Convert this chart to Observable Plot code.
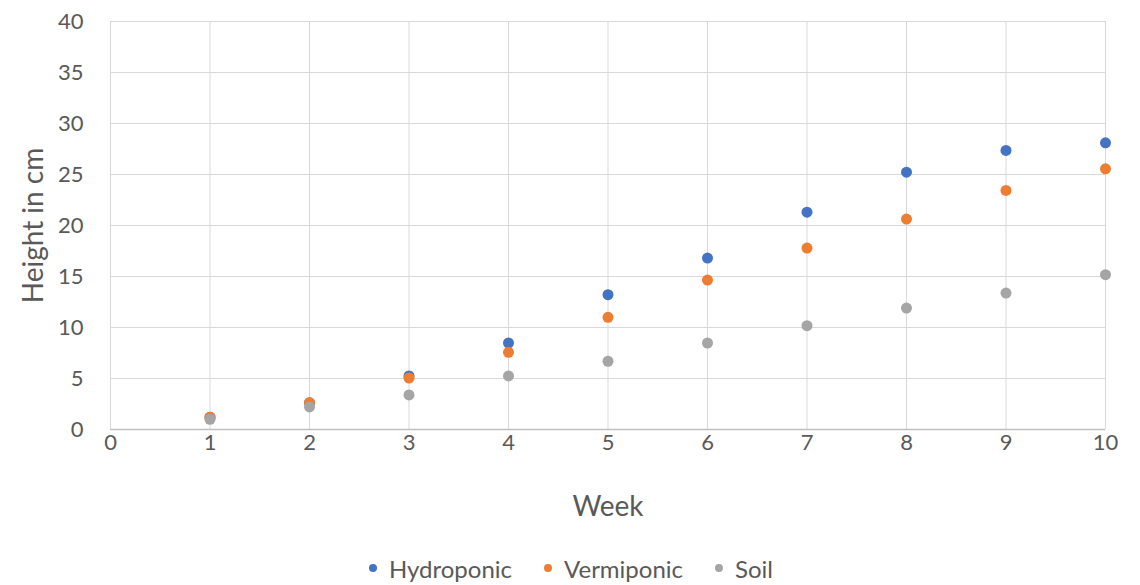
<!DOCTYPE html>
<html>
<head>
<meta charset="utf-8">
<script src="https://cdn.jsdelivr.net/npm/d3@7"></script>
<script src="https://cdn.jsdelivr.net/npm/@observablehq/plot@0.6"></script>
<style>
  body { margin: 0; background: #fff; font-family: Lato, "Open Sans", sans-serif; }
  #legend { display: flex; justify-content: center; align-items: center; height: 46px; font-size: 24px; color: #595959; padding-left: 2px; }
  .item { display: flex; align-items: center; margin: 0 16px; }
  .sw { width: 8px; height: 8px; border-radius: 50%; margin-right: 12px; }
</style>
</head>
<body>
<div id="chart"></div>
<div id="legend"></div>
<script>
const weeks = [1, 2, 3, 4, 5, 6, 7, 8, 9, 10];
const hydroponic = [1.2, 2.6, 5.25, 8.48, 13.22, 16.81, 21.31, 25.23, 27.36, 28.11];
const vermiponic = [1.2, 2.64, 5.05, 7.57, 11.0, 14.65, 17.79, 20.63, 23.44, 25.56];
const soil = [1.0, 2.21, 3.39, 5.25, 6.69, 8.48, 10.18, 11.91, 13.38, 15.18];
const seriesNames = ["Hydroponic", "Vermiponic", "Soil"];
const seriesColors = ["#4472C4", "#ED7D31", "#A5A5A5"];
const yTicks = [0, 5, 10, 15, 20, 25, 30, 35, 40];
const xTicks = [0, 1, 2, 3, 4, 5, 6, 7, 8, 9, 10];

const seriesValues = [hydroponic, vermiponic, soil];
const data = [];
seriesNames.forEach((name, i) => {
  weeks.forEach((w, j) => data.push({ series: name, week: w, height: seriesValues[i][j] }));
});

const chart = Plot.plot({
  width: 1140,
  height: 545,
  marginLeft: 110,
  marginRight: 35,
  marginTop: 21,
  marginBottom: 116,
  style: { fontFamily: "Lato, 'Open Sans', sans-serif", background: "#fff" },
  x: { domain: [0, 10] },
  y: { domain: [0, 40] },
  color: { domain: seriesNames, range: seriesColors },
  marks: [
    Plot.gridY(yTicks, { stroke: "#d9d9d9", strokeOpacity: 1 }),
    Plot.gridX(xTicks, { stroke: "#d9d9d9", strokeOpacity: 1 }),
    Plot.ruleY([0], { stroke: "#bfbfbf", strokeWidth: 1.5 }),
    Plot.axisY(yTicks, { tickSize: 0, tickPadding: 27, fontSize: 22, color: "#595959", label: null }),
    Plot.axisX(xTicks, { tickSize: 0, tickPadding: 5, fontSize: 22, color: "#595959", label: null }),
    Plot.text(["Week"], { frameAnchor: "bottom", dy: 78, lineAnchor: "middle", fontSize: 28, fill: "#595959" }),
    Plot.text(["Height in cm"], { frameAnchor: "left", dx: -76, rotate: -90, textAnchor: "middle", lineAnchor: "middle", fontSize: 28, fill: "#595959" }),
    Plot.dot(data, { x: "week", y: "height", fill: "series", r: 5.5 })
  ]
});
document.getElementById("chart").append(chart);

const legend = document.getElementById("legend");
seriesNames.forEach((name, i) => {
  const item = document.createElement("div");
  item.className = "item";
  const sw = document.createElement("span");
  sw.className = "sw";
  sw.style.background = seriesColors[i];
  const label = document.createElement("span");
  label.textContent = name;
  item.append(sw, label);
  legend.append(item);
});
</script>
</body>
</html>
